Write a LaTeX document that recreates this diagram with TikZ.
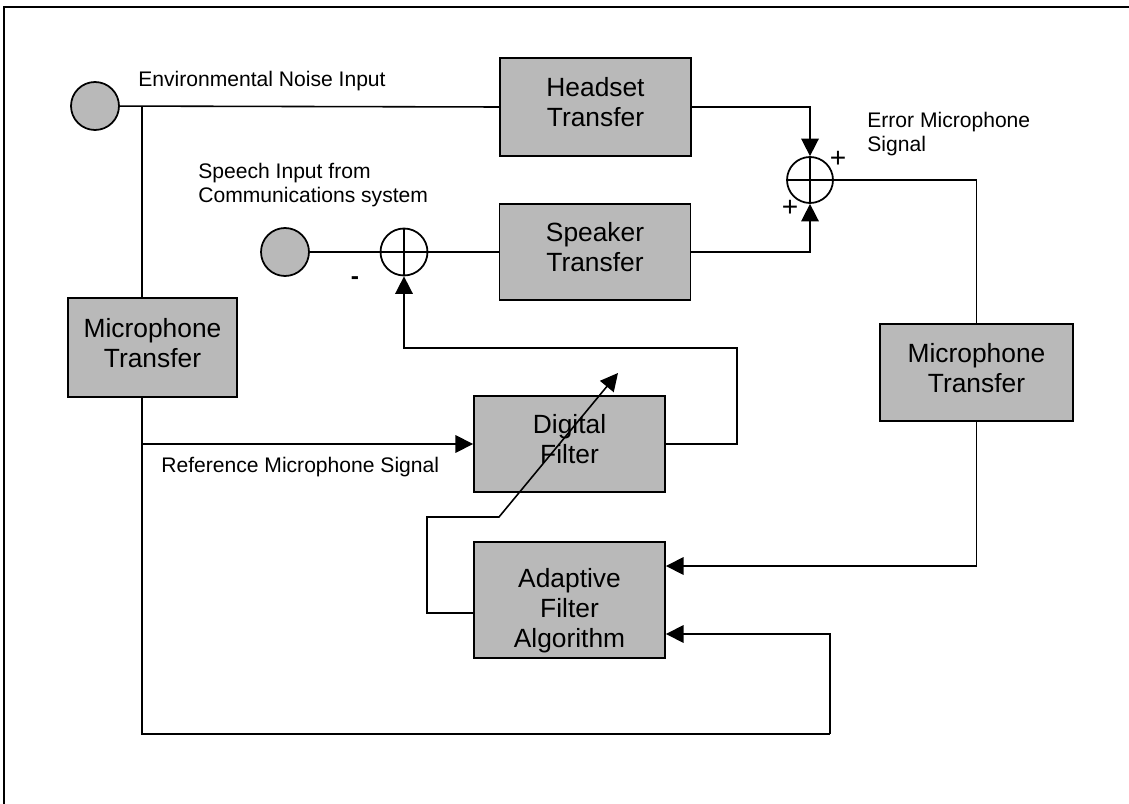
\documentclass[tikz,border=0pt]{standalone}
\usepackage{fontspec}
\setmainfont{Liberation Sans}
\usetikzlibrary{arrows.meta,positioning,calc}

\tikzset{
	block/.style={draw,line width=1.1pt,fill=gray!55,minimum width=3.82cm,minimum height=1.92cm,align=center,font=\fontsize{15}{17}\selectfont,inner sep=0pt,text depth=5.5pt},
	source/.style={circle,draw,line width=1pt,fill=gray!55,minimum size=0.96cm,inner sep=0pt},
	sumjn/.style={circle,draw,line width=1pt,fill=white,minimum size=0.94cm,inner sep=0pt,
		path picture={\draw[line width=0.9pt] (path picture bounding box.north) -- (path picture bounding box.south)
			(path picture bounding box.west) -- (path picture bounding box.east);}},
	lbl/.style={font=\fontsize{12}{14}\selectfont,align=left,inner sep=0pt},
	sgn/.style={font=\fontsize{16}{16}\selectfont,inner sep=0pt},
	wire/.style={line width=0.9pt},
	feed/.style={wire,-{Triangle[length=10pt,width=10pt]}}
}

\begin{document}
\begin{tikzpicture}[x=0.02cm,y=-0.02cm]
	\useasboundingbox (0,0) rectangle (1129,804);
	% frame
	\draw[line width=1.2pt] (4,804) -- (4,7) -- (1129,7);
	
	% sources and junctions
	\node[source] (noise) at (95,106) {};
	\node[source] (speech) at (285,252) {};
	\node[sumjn] (sumB) at (404,252) {};
	\node[sumjn,minimum size=0.92cm] (sumA) at (810,180) {};
	
	% blocks
	\node[block,minimum height=1.96cm] (headset) at (595.5,107) {Headset\\Transfer};
	\node[block] (speaker) at (595,252) {Speaker\\Transfer};
	\node[block,minimum width=3.38cm,minimum height=1.98cm] (micL) at (152.5,347.5) {Microphone\\Transfer};
	\node[block,minimum width=3.86cm,minimum height=1.94cm] (micR) at (976.5,372.5) {Microphone\\Transfer};
	\node[block] (digital) at (569.5,444) {Digital\\Filter};
	\node[block,minimum height=2.32cm,text depth=0pt] (adaptive) at (569.5,600) {\rule{0pt}{20pt}Adaptive\\Filter\\Algorithm};
	
	% labels
	\node[lbl,anchor=west] (noiselbl) at (138,81) {Environmental Noise Input};
	\node[lbl,anchor=west] (speechlbl) at (198,185) {Speech Input from\\Communications system};
	\node[lbl,anchor=west] (errlbl) at (867,134) {Error Microphone\\Signal};
	\node[lbl,anchor=west] (reflbl) at (161,467) {Reference Microphone Signal};
	\node[sgn] (plusA) at (838,159) {+};
	\node[sgn] (plusB) at (790,208) {+};
	\node[sgn,font=\fontsize{14}{14}\selectfont\bfseries] (minusB) at (355,281) {-};
	
	% helper points
	\coordinate (tap) at (142,106);
	\coordinate (refbr) at (tap |- digital.west);
	\coordinate (bot) at (142,734);
	\coordinate (botR) at (830,734);
	\coordinate (fb) at (737,348);
	\coordinate (adL) at (427,517);
	\coordinate (adK) at (499,517);
	\coordinate (adtip) at (618,373);
	
	% connections
	\draw[wire] (noise) -- (headset.west);
	\draw[wire] (tap) -- (tap |- micL.north);
	\draw[feed] (headset.east) -| (sumA.north);
	\draw[feed] (speaker.east) -| (sumA.south);
	\draw[wire] (speech) -- (sumB) -- (speaker.west);
	\draw[wire] (sumA.east) -| (micR.north);
	\draw[feed] (micR.south) |- ([yshift=0.68cm]adaptive.east);
	\draw[wire] (micL.south -| tap) -- (bot) -- (botR);
	\draw[feed] (botR) |- ([yshift=-0.68cm]adaptive.east);
	\draw[feed] (refbr) -- (digital.west);
	\draw[feed] (digital.east) -| (fb) -| (sumB.south);
	\draw[feed] ([yshift=-0.26cm]adaptive.west) -| (adL) -- (adK) -- (adtip);
\end{tikzpicture}
\end{document}
